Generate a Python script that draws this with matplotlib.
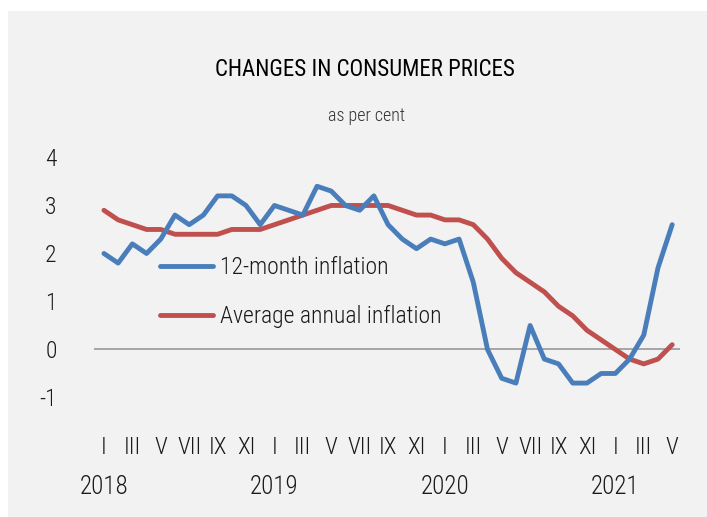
import matplotlib
matplotlib.use("Agg")
import matplotlib.pyplot as plt
from matplotlib.transforms import blended_transform_factory
from matplotlib.patches import Rectangle

# ---- data ----
months = list(range(41))  # Jan 2018 .. May 2021
inflation_12m = [2.0, 1.8, 2.2, 2.0, 2.3, 2.8, 2.6, 2.8, 3.2, 3.2, 3.0, 2.6,
                 3.0, 2.9, 2.8, 3.4, 3.3, 3.0, 2.9, 3.2, 2.6, 2.3, 2.1, 2.3,
                 2.2, 2.3, 1.4, 0.0, -0.6, -0.7, 0.5, -0.2, -0.3, -0.7, -0.7, -0.5,
                 -0.5, -0.2, 0.3, 1.7, 2.6]
inflation_avg = [2.9, 2.7, 2.6, 2.5, 2.5, 2.4, 2.4, 2.4, 2.4, 2.5, 2.5, 2.5,
                 2.6, 2.7, 2.8, 2.9, 3.0, 3.0, 3.0, 3.0, 3.0, 2.9, 2.8, 2.8,
                 2.7, 2.7, 2.6, 2.3, 1.9, 1.6, 1.4, 1.2, 0.9, 0.7, 0.4, 0.2,
                 0.0, -0.2, -0.3, -0.2, 0.1]
month_labels = ["I", "III", "V", "VII", "IX", "XI"] * 3 + ["I", "III", "V"]
month_label_pos = list(range(0, 41, 2))
years = ["2018", "2019", "2020", "2021"]
year_pos = [0, 12, 24, 36]
series_names = ["12-month inflation", "Average annual inflation"]

plt.rcParams["font.family"] = ["Roboto Condensed", "DejaVu Sans"]
plt.rcParams["font.weight"] = "light"

BLUE = "#4a7ebb"
RED = "#c0504d"
BG = "#f2f2f2"
TXT = "#1a1a1a"

fig = plt.figure(figsize=(7.07, 5.17), dpi=100)
fig.patch.set_facecolor("white")
fig.patches.append(Rectangle((8 / 707, 0), 1 - 8 / 707, 1 - 11 / 517,
                             transform=fig.transFigure, facecolor=BG,
                             edgecolor="none", zorder=-10))

ax = fig.add_axes([94 / 707, 0.2219, (680 - 94) / 707, 0.4828])
ax.set_facecolor("none")
ax.plot(months, inflation_12m, color=BLUE, lw=3.5, solid_joinstyle="round",
        solid_capstyle="round", label=series_names[0], zorder=3)
ax.plot(months, inflation_avg, color=RED, lw=3.5, solid_joinstyle="round",
        solid_capstyle="round", label=series_names[1], zorder=2)
ax.axhline(0, color="#999999", lw=1.2, zorder=1)

ax.set_xlim(-0.7, 40.55)
ax.set_ylim(-1.1, 4.1)
for s in ax.spines.values():
    s.set_visible(False)
ax.set_yticks([-1, 0, 1, 2, 3, 4])
ax.set_yticklabels(["-1", "0", "1", "2", "3", "4"])
ax.set_xticks(month_label_pos)
ax.set_xticklabels(month_labels)
ax.tick_params(axis="both", length=0, labelsize=17, colors=TXT)
ax.tick_params(axis="x", pad=24)
ax.tick_params(axis="y", pad=27)

tr = blended_transform_factory(ax.transData, fig.transFigure)
for y, p in zip(years, year_pos):
    ax.text(p, 1 - 487 / 517, y, transform=tr, ha="center", va="center",
            fontsize=18, color=TXT)

leg = ax.legend(loc="upper left", bbox_to_anchor=(66 / 586, 0.585),
                frameon=False, fontsize=17, handlelength=2.25,
                handletextpad=0.3, labelspacing=1.1, borderaxespad=0,
                borderpad=0)
for t in leg.get_texts():
    t.set_color(TXT)

fig.text(365 / 707, 1 - 69 / 517, "CHANGES IN CONSUMER PRICES", ha="center",
         va="center", fontsize=16.5, fontweight="normal", color="black")
fig.text(366 / 707, 1 - 116 / 517, "as per cent", ha="center", va="center",
         fontsize=13, color="#333333")

fig.savefig("out.png", dpi=100, facecolor=fig.get_facecolor())
